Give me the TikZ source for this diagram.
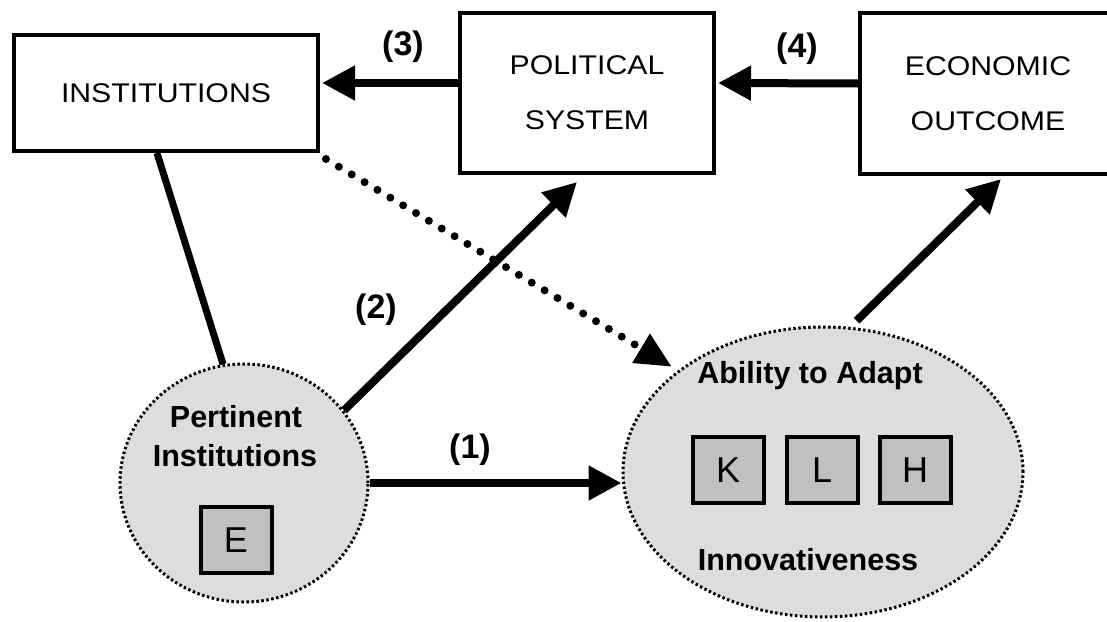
\documentclass[tikz,border=0pt]{standalone}
\usepackage{fontspec}
\setmainfont{Liberation Sans}
\newfontfamily\boxfont{Liberation Sans}[FakeStretch=1.12]
\usetikzlibrary{arrows.meta,shapes.geometric}
\begin{document}
\begin{tikzpicture}[x=1pt,y=-1pt,
  bigbox/.style={draw=black,line width=4pt,fill=white,rectangle,inner sep=0pt,
    align=center,font=\boxfont\fontsize{27}{55}\selectfont},
  letterbox/.style={draw=black,line width=4pt,fill=boxgray,rectangle,inner sep=0pt,
    minimum width=71pt,minimum height=66pt,font=\fontsize{36}{40}\selectfont},
  blob/.style={ellipse,draw=black,fill=blobgray,line width=3pt,
    dash pattern=on 2.5pt off 2.5pt,inner sep=0pt},
  blobtext/.style={anchor=base,inner sep=0pt,font=\bfseries\fontsize{30.5}{34}\selectfont},
  lbl/.style={inner sep=0pt,font=\bfseries\fontsize{34}{36}\selectfont},
  arr/.style={line width=8pt,-{Triangle[length=33pt,width=33pt]}},
  plain/.style={line width=7pt},
  dotarr/.style={line width=8pt,line cap=round,dash pattern=on 0pt off 15pt,
    -{Triangle[length=36pt,width=32pt]}}
]
\definecolor{boxgray}{HTML}{C0C0C0}
\definecolor{blobgray}{HTML}{DDDDDD}
\useasboundingbox (0,0) rectangle (1107,621);
\fill[white] (0,0) rectangle (1107,621);

% boxes
\node[bigbox,minimum width=304pt,minimum height=116pt] (inst) at (166,93) {INSTITUTIONS};
\node[bigbox,minimum width=254pt,minimum height=160pt] (pol) at (587,93) {POLITICAL\\SYSTEM};
\node[bigbox,minimum width=256pt,minimum height=161pt] (eco) at (988,93.5) {ECONOMIC\\OUTCOME};

% ellipses
\node[blob,minimum width=248pt,minimum height=238pt] (pert) at (244,483) {};
\node[blob,minimum width=400pt,minimum height=290pt] (abil) at (823,472) {};

\node[blobtext] (pt1) at (236,427) {Pertinent};
\node[blobtext] (pt2) at (235,466) {Institutions};
\node[letterbox] (E) at (236,540) {E};

\node[blobtext] (ab1) at (810,383) {Ability to Adapt};
\node[blobtext] (ab2) at (808,570) {Innovativeness};
\node[letterbox] (K) at (728,470) {K};
\node[letterbox] (L) at (822,470) {L};
\node[letterbox] (H) at (915,470) {H};

% labels
\node[lbl] (l3) at (403,47) {(3)};
\node[lbl] (l4) at (797,49) {(4)};
\node[lbl] (l2) at (376,310) {(2)};
\node[lbl] (l1) at (470,450) {(1)};

% connectors
\draw[arr] ([yshift=10pt]pol.west) -- ([yshift=10pt,xshift=2pt]inst.east);
\draw[arr] ([yshift=10pt]eco.west) -- ([yshift=10pt,xshift=2pt]pol.east);
\draw[plain] ([xshift=-9pt]inst.south) -- (pert.100);
\draw[arr] (pert.36) -- ([xshift=-10pt,yshift=-7pt]pol.south);
\draw[arr] (pert.east) -- (pert.east -| abil.west);
\draw[arr] ([xshift=8pt,yshift=6pt]abil.80) -- ([xshift=13pt,yshift=-3pt]eco.south);
\draw[dotarr,shorten >=7pt] ([xshift=6pt,yshift=-6pt]inst.south east) -- (abil.145);
\end{tikzpicture}
\end{document}
